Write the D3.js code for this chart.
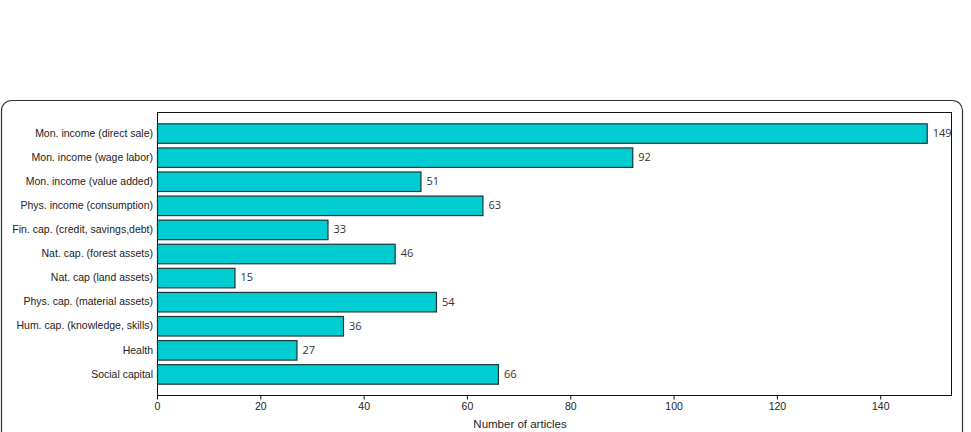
<!DOCTYPE html>
<html>
<head>
<meta charset="utf-8">
<script src="https://cdn.jsdelivr.net/npm/d3@7"></script>
<style>
  body { margin: 0; background: #fff; }
</style>
</head>
<body>
<div class="canvas"></div>
<script>
// data
const categories = [
  'Mon. income (direct sale)',
  'Mon. income (wage labor)',
  'Mon. income (value added)',
  'Phys. income (consumption)',
  'Fin. cap. (credit, savings,debt)',
  'Nat. cap. (forest assets)',
  'Nat. cap (land assets)',
  'Phys. cap. (material assets)',
  'Hum. cap. (knowledge, skills)',
  'Health',
  'Social capital'
];
const articles = [149, 92, 51, 63, 33, 46, 15, 54, 36, 27, 66];
const xTicks = [0, 20, 40, 60, 80, 100, 120, 140];

const width = 971, height = 432;
const svg = d3.select('.canvas').append('svg').attr('width', width).attr('height', height);

// outer rounded frame (runs off the bottom)
svg.append('rect')
  .attr('x', 1.5).attr('y', 100.5)
  .attr('width', 961).attr('height', 400)
  .attr('rx', 10)
  .attr('fill', 'none')
  .attr('stroke', '#333')
  .attr('stroke-width', 1.2);

const plot = { left: 157, right: 951, top: 112, bottom: 395 };

const x = d3.scaleLinear().domain([0, 153.7]).range([plot.left, plot.right]);
const y = d3.scaleBand().domain(categories).range([plot.top, plot.bottom])
  .paddingInner(0.19).paddingOuter(0.47);

// plot frame
svg.append('rect')
  .attr('x', plot.left + 0.5).attr('y', plot.top + 0.5)
  .attr('width', plot.right - plot.left).attr('height', plot.bottom - plot.top)
  .attr('fill', 'none')
  .attr('stroke', '#111');

// bars
svg.selectAll('rect.bar')
  .data(categories)
  .enter().append('rect')
  .attr('class', 'bar')
  .attr('x', x(0) + 0.5)
  .attr('y', d => y(d) + 0.5)
  .attr('width', (d, i) => x(articles[i]) - x(0))
  .attr('height', y.bandwidth())
  .attr('fill', '#00CDD2')
  .attr('stroke', '#1c3535')
  .attr('stroke-width', 1.2);

// value labels
svg.selectAll('text.val')
  .data(categories)
  .enter().append('text')
  .attr('class', 'val')
  .attr('x', (d, i) => x(articles[i]) + 6)
  .attr('y', d => y(d) + y.bandwidth() / 2)
  .attr('dy', '0.35em')
  .attr('fill', '#333')
  .style('font-family', '"Open Sans", sans-serif')
  .style('font-size', '11px')
  .text((d, i) => articles[i]);

// category labels
svg.selectAll('text.cat')
  .data(categories)
  .enter().append('text')
  .attr('class', 'cat')
  .attr('x', plot.left - 4)
  .attr('y', d => y(d) + y.bandwidth() / 2)
  .attr('dy', '0.35em')
  .attr('text-anchor', 'end')
  .attr('fill', '#222')
  .style('font-family', '"Liberation Sans", Arial, sans-serif')
  .style('font-size', '10.5px')
  .text(d => d);

// x axis
const xAxis = svg.append('g')
  .attr('transform', `translate(0, ${plot.bottom + 0.5})`)
  .call(d3.axisBottom(x).tickValues(xTicks).tickSize(4).tickPadding(3));
xAxis.select('.domain').remove();
xAxis.selectAll('line').attr('stroke', '#111');
xAxis.selectAll('text')
  .attr('fill', '#222')
  .style('font-family', '"Liberation Sans", Arial, sans-serif')
  .style('font-size', '10.5px');

// axis title
svg.append('text')
  .attr('x', 520)
  .attr('y', 428)
  .attr('text-anchor', 'middle')
  .attr('fill', '#222')
  .style('font-family', '"Liberation Sans", Arial, sans-serif')
  .style('font-size', '11.5px')
  .text('Number of articles');
</script>
</body>
</html>
